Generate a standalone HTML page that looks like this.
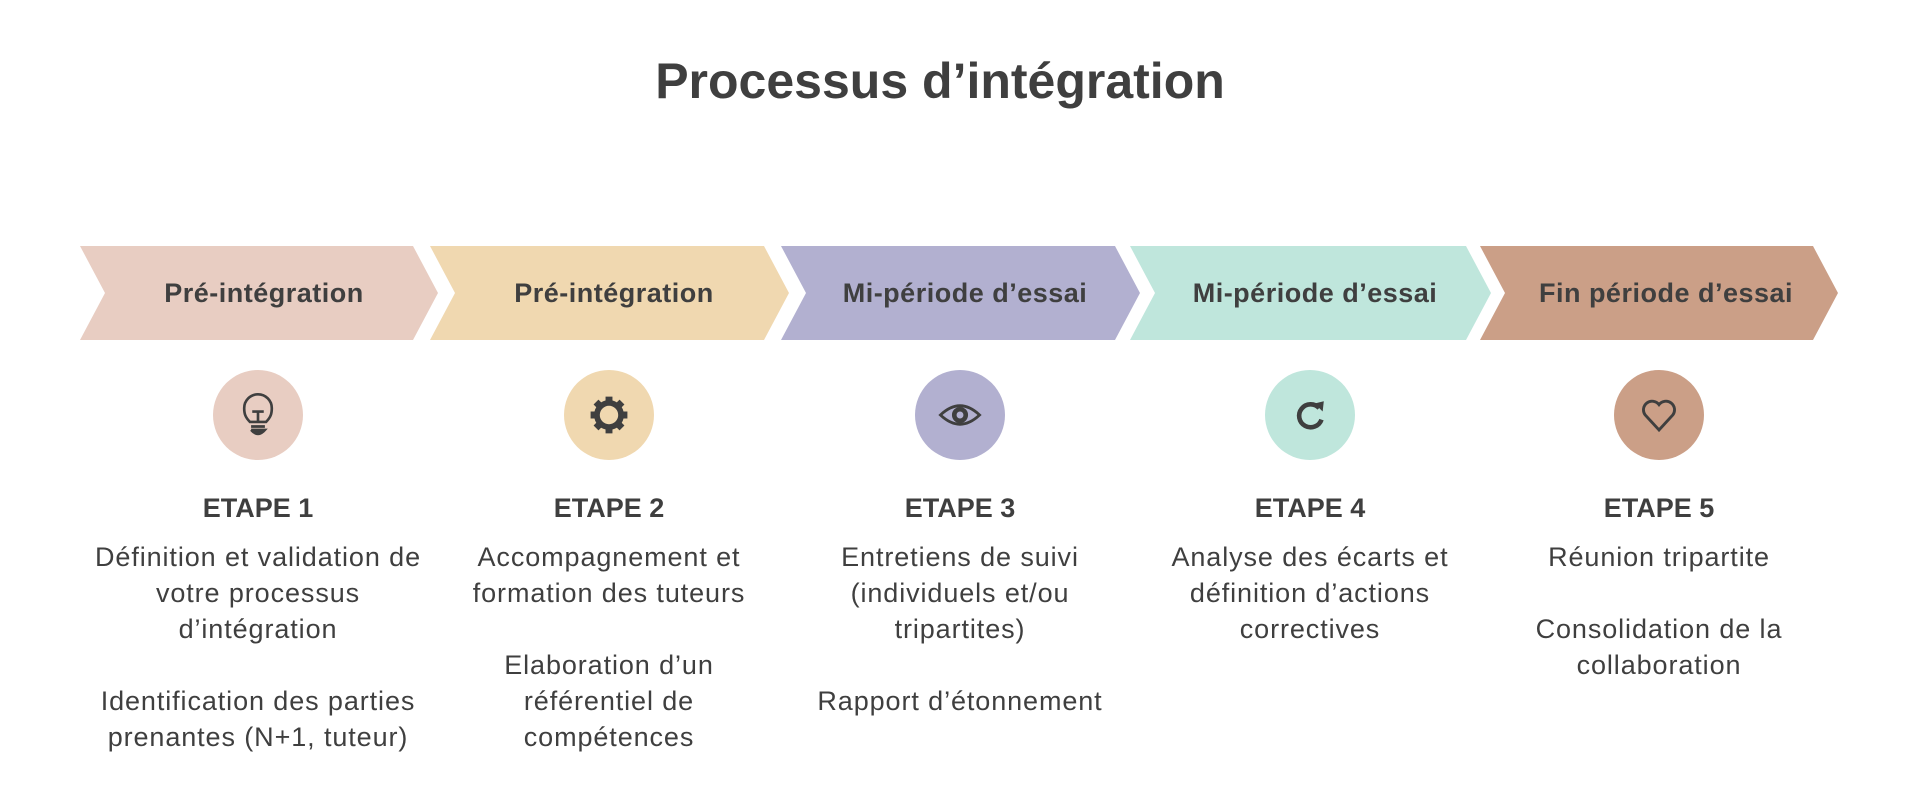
<!DOCTYPE html>
<html><head><meta charset="utf-8"><style>
body{margin:0;width:1920px;height:800px;background:#fff;position:relative;overflow:hidden;font-family:"Liberation Sans",sans-serif;color:#3f3f3f}
.t{position:absolute;left:0;width:1880px;text-align:center;top:49px;font-size:50px;font-weight:bold;line-height:64px}
.lab{position:absolute;top:273px;width:300px;text-align:center;font-size:27px;font-weight:bold;line-height:40px;letter-spacing:0.5px}
.c{position:absolute;top:370px;width:90px;height:90px;border-radius:50%}
.c svg{position:absolute;left:22px;top:22px}
.et{position:absolute;top:490px;width:380px;text-align:center;font-size:27px;font-weight:bold;line-height:36px}
.bd{position:absolute;top:539px;width:400px;text-align:center;font-size:27px;line-height:36px;letter-spacing:0.9px}
.bd p{margin:0 0 36px 0}
</style></head><body>
<div class="t">Processus d’intégration</div>
<svg style="position:absolute;left:0;top:0" width="1920" height="800">
<polygon points="80,246 413,246 438,293 413,340 80,340 105,293" fill="#e8cdc2"/>
<polygon points="430,246 764,246 789,293 764,340 430,340 455,293" fill="#f0d8b0"/>
<polygon points="781,246 1115,246 1140,293 1115,340 781,340 806,293" fill="#b2b0d0"/>
<polygon points="1130,246 1466,246 1491,293 1466,340 1130,340 1155,293" fill="#bfe6dc"/>
<polygon points="1480,246 1813,246 1838,293 1813,340 1480,340 1505,293" fill="#cb9f87"/>
</svg>
<div class="lab" style="left:114px">Pré-intégration</div>
<div class="lab" style="left:464px">Pré-intégration</div>
<div class="lab" style="left:815px">Mi-période d’essai</div>
<div class="lab" style="left:1165px">Mi-période d’essai</div>
<div class="lab" style="left:1516px">Fin période d’essai</div>

<div class="c" style="left:213px;background:#e8cdc2"><svg width="46" height="46" viewBox="0 0 40 40" fill="none" stroke="#3f3f3f" stroke-width="2.3"><path d="M13,26 C9,22 8,19 8,14 A12,12 0 0 1 32,14 C32,19 31,22 27,26 Z"/><path d="M15,17 H25 M20,17 V27"/><path d="M14,30 H26 M14,33 H26 Q20,40 14,33" fill="#3f3f3f"/></svg></div>
<div class="c" style="left:564px;background:#f0d8b0"><svg width="46" height="46" viewBox="0 0 40 40"><g fill="#3f3f3f"><circle cx="20" cy="20" r="13"/><g stroke="#3f3f3f" stroke-width="6"><path d="M20,4 V36 M4,20 H36 M8.7,8.7 L31.3,31.3 M31.3,8.7 L8.7,31.3"/></g></g><circle cx="20" cy="20" r="8" fill="#f0d8b0"/></svg></div>
<div class="c" style="left:915px;background:#b2b0d0"><svg width="46" height="46" viewBox="0 0 40 40" fill="none" stroke="#3f3f3f" stroke-width="2.5"><path d="M3,20 Q20,4 37,20 Q20,36 3,20 Z"/><circle cx="20" cy="20" r="5" stroke-width="4"/></svg></div>
<div class="c" style="left:1265px;background:#bfe6dc"><svg width="46" height="46" viewBox="0 0 40 40" fill="none" stroke="#3f3f3f" stroke-width="4"><path d="M28,14 A10,10 0 1 0 30,24"/><polygon points="24,10 32,8 31,17" fill="#3f3f3f" stroke="none"/></svg></div>
<div class="c" style="left:1614px;background:#cb9f87"><svg width="46" height="46" viewBox="0 0 40 40" fill="none" stroke="#3f3f3f" stroke-width="2.5"><path d="M20,33 L8,20 A6.5,6.5 0 0 1 20,11 A6.5,6.5 0 0 1 32,20 Z"/></svg></div>

<div class="et" style="left:68px">ETAPE 1</div>
<div class="et" style="left:419px">ETAPE 2</div>
<div class="et" style="left:770px">ETAPE 3</div>
<div class="et" style="left:1120px">ETAPE 4</div>
<div class="et" style="left:1469px">ETAPE 5</div>

<div class="bd" style="left:58px"><p>Définition et validation de<br>votre processus<br>d’intégration</p><p>Identification des parties<br>prenantes (N+1, tuteur)</p></div>
<div class="bd" style="left:409px"><p>Accompagnement et<br>formation des tuteurs</p><p>Elaboration d’un<br>référentiel de<br>compétences</p></div>
<div class="bd" style="left:760px"><p>Entretiens de suivi<br>(individuels et/ou<br>tripartites)</p><p>Rapport d’étonnement</p></div>
<div class="bd" style="left:1110px"><p>Analyse des écarts et<br>définition d’actions<br>correctives</p></div>
<div class="bd" style="left:1459px"><p>Réunion tripartite</p><p>Consolidation de la<br>collaboration</p></div>
</body></html>
